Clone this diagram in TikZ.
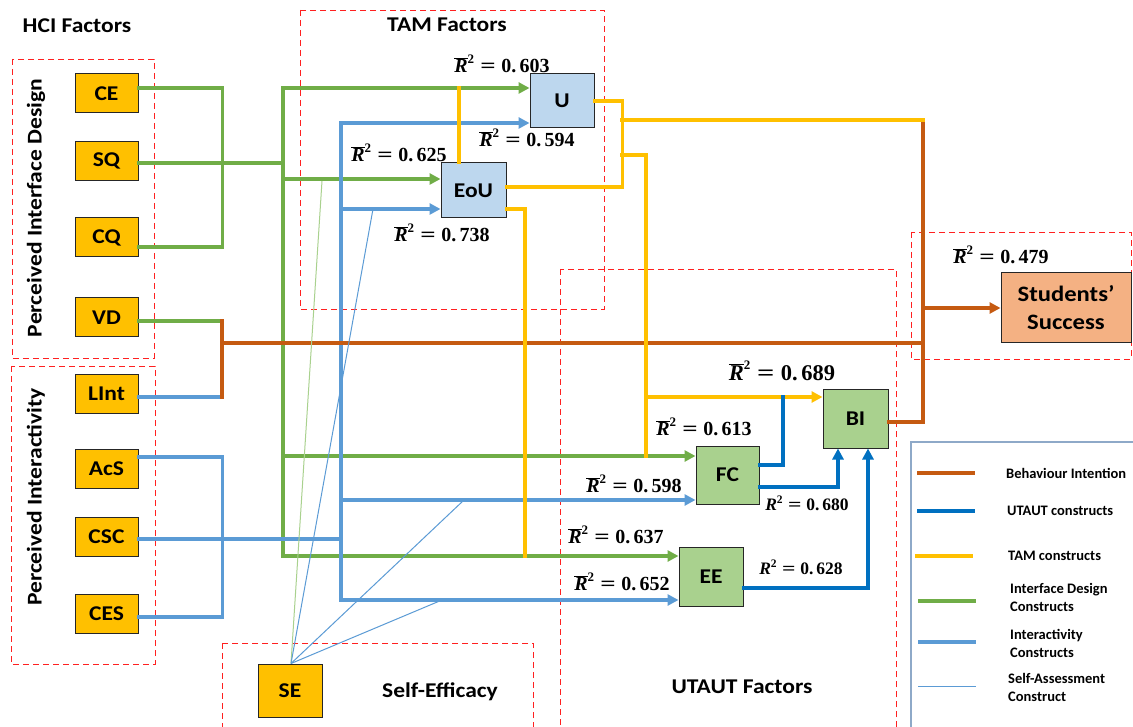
\documentclass[tikz,border=0pt]{standalone}
\usepackage[no-math]{fontspec}
\usepackage{graphicx}
\setmainfont{Carlito}
\newfontfamily\widefont{Carlito}[FakeStretch=1.12]
\newfontfamily\rfont{Liberation Serif}
\usetikzlibrary{arrows.meta}
\newcommand{\rbarlab}[2]{\rfont\bfseries\fontsize{#1}{#1}\selectfont$\overline{\hbox{\itshape R}}^{\hbox{\fontsize{13}{13}\selectfont 2}}$\hspace{0.28em}\scalebox{1.35}[1]{=}\hspace{0.28em}#2}
\newcommand{\rplainlab}[2]{\rfont\bfseries\fontsize{#1}{#1}\selectfont$\hbox{\itshape R}^{\hbox{\fontsize{11.5}{11.5}\selectfont 2}}$\hspace{0.28em}\scalebox{1.35}[1]{=}\hspace{0.28em}#2}
\definecolor{cOrange}{HTML}{FFC000}
\definecolor{cBlueBox}{HTML}{BDD7EE}
\definecolor{cGreenBox}{HTML}{A9D18E}
\definecolor{cSS}{HTML}{F4B183}
\definecolor{cBrown}{HTML}{C55A11}
\definecolor{cYel}{HTML}{FFC000}
\definecolor{cGrn}{HTML}{70AD47}
\definecolor{cThinG}{HTML}{A9D18E}
\definecolor{cLB}{HTML}{5B9BD5}
\definecolor{cDB}{HTML}{0070C0}
\definecolor{cRed}{HTML}{FF2020}
\definecolor{cLeg}{HTML}{8EA9C8}
\tikzset{
  box/.style={draw=black!85, line width=1pt, inner sep=0pt, font=\widefont\bfseries\fontsize{21}{24}\selectfont},
  obox/.style={box, fill=cOrange, minimum width=63pt, minimum height=39pt},
  bbox/.style={box, fill=cBlueBox},
  gbox/.style={box, fill=cGreenBox},
  dbox/.style={draw=cRed, line width=0.9pt, dash pattern=on 6pt off 4pt},
  title/.style={font=\widefont\bfseries\fontsize{21}{24}\selectfont, inner sep=0pt},
  rlab/.style={inner sep=0pt},
  leg/.style={font=\bfseries\fontsize{14.5}{18}\selectfont, inner sep=0pt, anchor=west, align=left},
  conn/.style={line width=3.5pt, line cap=rect},
  gl/.style={conn, draw=cGrn},
  ll/.style={conn, draw=cLB},
  yl/.style={conn, draw=cYel},
  dl/.style={conn, draw=cDB},
  brl/.style={conn, draw=cBrown},
  tgl/.style={draw=cThinG, line width=1pt},
  tbl/.style={draw=cLB, line width=1pt},
  arr/.style={-{Triangle[length=11pt,width=11pt]}},
}
\begin{document}
\begin{tikzpicture}[x=1pt,y=-1pt]
\useasboundingbox (0,0) rectangle (1133,727);
\clip (0,0) rectangle (1133,727);
\fill[white] (0,0) rectangle (1133,727);

% dashed group frames
\draw[dbox] (12,59) rectangle (154,358);
\draw[dbox] (11,366) rectangle (155,664);
\draw[dbox] (300,10) rectangle (604,309);
\draw[dbox] (222,643) rectangle (533,740);
\draw[dbox] (560,269) rectangle (896,740);
\draw[dbox] (911,232) rectangle (1131,359);
\draw[draw=cLeg, line width=1.5pt] (911,442) rectangle (1150,740);

% titles
\node[title] (tHCI) at (77,26) {HCI Factors};
\node[title] (tTAM) at (447,25) {TAM Factors};
\node[title] (tSE) at (440,692) {Self-Efficacy};
\node[title] (tUT) at (742,687) {UTAUT Factors};
\node[title, rotate=90] (tPID) at (36,208) {Perceived Interface Design};
\node[title, rotate=90] (tPI) at (36,497) {Perceived Interactivity};

% nodes
\node[obox] (CE) at (106.5,93.5) {CE};
\node[obox] (SQ) at (106.5,161) {SQ};
\node[obox] (CQ) at (106.5,237.5) {CQ};
\node[obox] (VD) at (106.5,317.5) {VD};
\node[obox] (LInt) at (106.5,394) {LInt};
\node[obox] (AcS) at (106.5,468.5) {AcS};
\node[obox] (CSC) at (106.5,537) {CSC};
\node[obox] (CES) at (106.5,613.5) {CES};
\node[obox, minimum width=64pt, minimum height=53pt] (SE) at (290,690.5) {SE};
\node[bbox, minimum width=64pt, minimum height=54pt] (U) at (562,101) {U};
\node[bbox, minimum width=65pt, minimum height=55pt] (EoU) at (473.5,190.5) {EoU};
\node[gbox, minimum width=65pt, minimum height=59pt] (BI) at (855.5,418.5) {BI};
\node[gbox, minimum width=63pt, minimum height=58pt] (FC) at (727.5,475) {FC};
\node[gbox, minimum width=64pt, minimum height=59pt] (EE) at (711,576.5) {EE};
\node[box, fill=cSS, minimum width=130pt, minimum height=70pt, align=center,
      font=\widefont\bfseries\fontsize{22}{28}\selectfont] (SS) at (1066,308) {Students’\\Success};

% junction coordinates
\coordinate (gT) at (283,88);
\coordinate (gS) at (283,163);
\coordinate (gE) at (283,179);
\coordinate (gF) at (283,456);
\coordinate (gB) at (283,556);
\coordinate (vdj) at (222,321);
\coordinate (lij) at (222,397);
\coordinate (brL) at (222,343);
\coordinate (brR) at (923,343);
\coordinate (brT) at (923,120);
\coordinate (brB) at (923,422);
\coordinate (brS) at (923,308);
\coordinate (lT) at (341,123);
\coordinate (lE) at (341,209);
\coordinate (lC) at (341,539);
\coordinate (lF) at (341,500);
\coordinate (lB) at (341,600);
\coordinate (yA) at (622,120);
\coordinate (yB) at (622,155);
\coordinate (yC) at (646,397);
\coordinate (yD) at (646,456);
\coordinate (yU) at (459,88);
\coordinate (yE) at (525,556);
\coordinate (dJ) at (783,397);
\coordinate (t1) at (322,181);
\coordinate (t2) at (373,209);
\coordinate (t3) at (464,500);
\coordinate (t4) at (442,600);

% green: interface design
\draw[gl] ([yshift=5.5pt]CE.east) -- ++(84,0) |- ([yshift=-9.5pt]CQ.east);
\draw[gl] ([yshift=-2pt]SQ.east) -- (gS);
\draw[gl] ([yshift=-3.5pt]VD.east) -- (vdj);
\draw[gl] (gT) -- (gB);
\draw[gl,arr] (gT) -- ([yshift=13pt]U.west);
\draw[gl,arr] (gE) -- ([yshift=11.5pt]EoU.west);
\draw[gl,arr] (gF) -- ([yshift=19pt]FC.west);
\draw[gl,arr] (gB) -- ([yshift=20.5pt]EE.west);

% light blue: interactivity
\draw[ll] ([yshift=-3pt]LInt.east) -- (lij);
\draw[ll] ([yshift=11.5pt]AcS.east) -- ++(84,0) |- ([yshift=-3.5pt]CES.east);
\draw[ll] ([yshift=-2pt]CSC.east) -- (lC);
\draw[ll] (lT) -- (lB);
\draw[ll,arr] (lT) -- ([yshift=-22pt]U.west);
\draw[ll,arr] (lE) -- ([yshift=-18.5pt]EoU.west);
\draw[ll,arr] (lF) -- ([yshift=-25pt]FC.west);
\draw[ll,arr] (lB) -- ([yshift=-23.5pt]EE.west);

% brown: behaviour intention
\draw[brl] (vdj) -- (lij);
\draw[brl] (brL) -- (brR);
\draw[brl] (brT) -- (brB);
\draw[brl] ([yshift=-3.5pt]BI.east) -- (brB);
\draw[brl,arr] (brS) -- (SS.west);

% yellow: TAM
\draw[yl] (U.east) -- ++(28,0) |- ([yshift=3.5pt]EoU.east);
\draw[yl] (yA) -- (brT);
\draw[yl] (yB) -| (yD);
\draw[yl,arr] (yC) -- ([yshift=21.5pt]BI.west);
\draw[yl] ([xshift=-14.5pt]EoU.north) -- (yU);
\draw[yl] ([yshift=-18.5pt]EoU.east) -| (yE);

% dark blue: UTAUT
\draw[dl] ([yshift=10pt]FC.east) -| (dJ);
\draw[dl,arr] ([yshift=-12pt]FC.east) -| ([xshift=-17.5pt]BI.south);
\draw[dl,arr] ([yshift=-11.5pt]EE.east) -| ([xshift=12.5pt]BI.south);

% thin: self-assessment
\draw[tgl] ([xshift=1pt]SE.north) -- (t1);
\draw[tbl] ([xshift=1pt]SE.north) -- (t2);
\draw[tbl] ([xshift=1pt]SE.north) -- (t3);
\draw[tbl] ([xshift=1pt]SE.north) -- (t4);

% R^2 labels
\node[rlab] (r603) at (502,64) {\rbarlab{20}{0.\,603}};
\node[rlab] (r594) at (527,138) {\rbarlab{20}{0.\,594}};
\node[rlab] (r625) at (399,153) {\rbarlab{20}{0.\,625}};
\node[rlab] (r738) at (442,233) {\rbarlab{20}{0.\,738}};
\node[rlab] (r479) at (1001,255) {\rbarlab{20}{0.\,479}};
\node[rlab] (r689) at (782,371) {\rbarlab{22.5}{0.\,689}};
\node[rlab] (r613) at (704,427) {\rbarlab{20}{0.\,613}};
\node[rlab] (r598) at (634,484) {\rbarlab{20}{0.\,598}};
\node[rlab] (r680) at (807,503) {\rplainlab{17.5}{0.\,680}};
\node[rlab] (r637) at (616,535) {\rbarlab{20}{0.\,637}};
\node[rlab] (r652) at (622,582) {\rbarlab{20}{0.\,652}};
\node[rlab] (r628) at (801,567) {\rplainlab{17.5}{0.\,628}};

% legend
\draw[draw=cBrown, line width=3.5pt] (917,473) -- (975,473);
\draw[draw=cDB, line width=3.5pt] (917,511) -- (975,511);
\draw[draw=cYel, line width=3.5pt] (915,556) -- (973,556);
\draw[draw=cGrn, line width=3.5pt] (918,601) -- (976,601);
\draw[draw=cLB, line width=3.5pt] (918,642) -- (976,642);
\draw[draw=cLB, line width=1pt] (918,686) -- (976,686);
\node[leg] (lg1) at (1006,473) {Behaviour Intention};
\node[leg] (lg2) at (1007,511) {UTAUT constructs};
\node[leg] (lg3) at (1008,556) {TAM constructs};
\node[leg] (lg4) at (1010,597) {Interface Design\\Constructs};
\node[leg] (lg5) at (1010,643) {Interactivity\\Constructs};
\node[leg] (lg6) at (1008,687) {Self-Assessment\\Construct};
\end{tikzpicture}
\end{document}
